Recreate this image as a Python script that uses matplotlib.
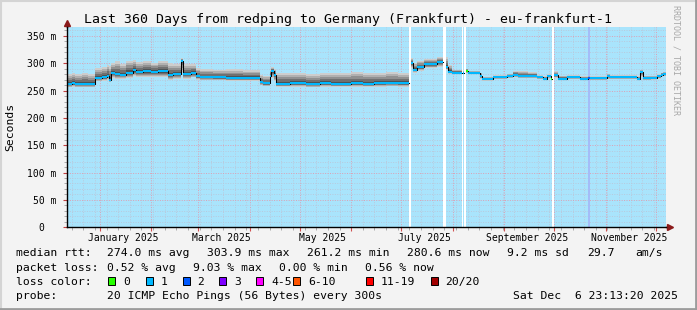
import matplotlib
matplotlib.use("Agg")
import matplotlib.dates as mdates
import matplotlib.pyplot as plt
import numpy as np
import pandas as pd
from matplotlib.lines import Line2D
from matplotlib.patches import Rectangle
from matplotlib.ticker import MultipleLocator, NullFormatter

MONO = "DejaVu Sans Mono"
W, H = 697, 310

TITLE = "Last 360 Days from redping to Germany (Frankfurt) - eu-frankfurt-1"
START = "2024-12-11 23:13:20"
END = "2025-12-06 23:13:20"

# step start times; None in MEDIAN = no data (white gap)
TIMES = [
    "2024-12-11 23:13", "2024-12-15", "2024-12-17", "2024-12-21", "2024-12-25",
    "2024-12-29", "2025-01-02", "2025-01-05", "2025-01-06 12:00", "2025-01-08",
    "2025-01-10", "2025-01-13", "2025-01-17", "2025-01-21", "2025-01-23",
    "2025-01-27", "2025-02-01", "2025-02-05", "2025-02-11", "2025-02-14",
    "2025-02-18 12:00", "2025-02-19 18:00", "2025-02-25", "2025-02-28", "2025-03-02",
    "2025-03-10", "2025-03-18", "2025-03-28", "2025-04-07", "2025-04-09",
    "2025-04-13", "2025-04-14", "2025-04-15 12:00", "2025-04-16 16:00", "2025-04-25",
    "2025-05-05", "2025-05-13", "2025-05-20", "2025-06-01", "2025-06-08",
    "2025-06-15", "2025-06-22", "2025-06-29", "2025-07-05 14:00",
    "2025-07-06 22:00", "2025-07-08", "2025-07-10 12:00", "2025-07-15", "2025-07-22 12:00", "2025-07-26",
    "2025-07-28", "2025-07-29", "2025-07-31 12:00", "2025-08-06 08:00", "2025-08-07 04:00", "2025-08-07 20:00",
    "2025-08-09 06:00", "2025-08-10", "2025-08-17 12:00", "2025-08-18 12:00", "2025-08-25",
    "2025-09-02 12:00", "2025-09-06", "2025-09-09", "2025-09-15", "2025-09-20 12:00",
    "2025-09-24", "2025-09-26 12:00", "2025-09-28 20:00", "2025-09-29 14:00", "2025-09-30 20:00",
    "2025-10-03", "2025-10-08 12:00", "2025-10-16 12:00", "2025-10-21 06:00", "2025-10-22 12:00",
    "2025-11-01 16:00", "2025-11-03 12:00", "2025-11-13 16:00", "2025-11-19 18:00", "2025-11-21 12:00",
    "2025-11-23 10:00", "2025-11-28", "2025-12-01 18:00", "2025-12-04", "2025-12-05 12:00",
]
MEDIAN = [
    262.0, 263.5, 262.0, 262.5, 262.0,
    273.0, 274.0, 277.0, 270.0, 282.0,
    280.0, 279.0, 283.0, 287.0, 284.0,
    285.0, 284.5, 285.0, 278.5, 280.0,
    303.9, 280.0, 282.0, 276.0, 274.5,
    274.0, 273.5, 273.5, 265.0, 263.0,
    277.0, 285.0, 279.0, 262.5, 263.0,
    262.0, 263.0, 262.5, 263.5, 262.5,
    263.0, 263.5, 263.0, None,
    300.0, 288.0, 292.5, 298.5, 302.0, None,
    294.0, 284.5, 283.0, None, 283.0, None,
    286.5, 283.0, 277.0, 271.0, 274.0,
    276.5, 279.0, 276.0, 276.5, 274.0,
    272.0, 276.0, 271.0, None, 278.0,
    272.0, 274.0, 272.0, 272.5, 272.5,
    276.0, 274.0, 274.5, 272.0, 284.5,
    272.5, 273.0, 276.0, 279.0, 280.6,
]
SMOKE_LO = [
    256, 257, 256, 256, 256,
    267, 268, 270, 265, 273,
    271, 271, 273, 276, 274,
    275, 275, 275, 270, 271,
    284, 272, 274, 270, 269,
    269, 268, 268, 260, 258,
    267, 273, 267, 257, 257,
    256, 257, 257, 257, 257,
    257, 258, 257, None,
    291, 283, 286, 291, 294, None,
    288, 281, 280, None, 280, None,
    282, 280, 271, 268, 271,
    273, 274, 273, 273, 271,
    269, 273, 269, None, 273,
    269, 271, 269, 269, 269,
    271, 271, 271, 269, 275,
    269, 270, 272, 275, 276,
]
SMOKE_HI = [
    281, 282, 280, 283, 281,
    291, 293, 297, 295, 301,
    304, 299, 305, 306, 303,
    305, 301, 304, 300, 298,
    309, 298, 299, 291, 289,
    288, 289, 287, 279, 277,
    289, 294, 289, 282, 283,
    281, 282, 283, 284, 282,
    283, 284, 283, None,
    309, 301, 305, 308, 312, None,
    311, 297, 288, None, 286, None,
    290, 286, 283, 275, 278,
    281, 286, 285, 284, 278,
    276, 280, 274, None, 286,
    277, 278, 276, 277, 276,
    281, 278, 278, 276, 288,
    277, 277, 280, 283, 284,
]
# loss bucket index per step (into LOSS_LABELS)
LOSS = [
    1, 1, 1, 1, 1,
    1, 1, 1, 1, 1,
    1, 1, 1, 1, 1,
    1, 1, 1, 1, 1,
    1, 1, 1, 1, 1,
    1, 1, 1, 1, 1,
    1, 1, 1, 1, 1,
    1, 1, 1, 1, 1,
    1, 1, 1, 1,
    1, 1, 1, 1, 1, 1,
    1, 1, 1, 1, 1, 1,
    0, 1, 1, 1, 1,
    1, 1, 1, 1, 1,
    1, 1, 0, 1, 1,
    1, 1, 1, 2, 1,
    1, 1, 1, 1, 1,
    1, 1, 1, 1, 1,
]
HIGHLIGHT = [("2025-10-21 06:00", "2025-10-22 12:00")]

LOSS_LABELS = ["0", "1", "2", "3", "4-5", "6-10", "11-19", "20/20"]
LOSS_COLORS = ["#26ff00", "#00b8ff", "#0059ff", "#7e00ff",
               "#ff00ff", "#ff5500", "#ff0000", "#a10000"]

RTT_TEXT = ["median rtt:", "274.0 ms avg", "303.9 ms max", "261.2 ms min",
            "280.6 ms now", "9.2 ms sd", "29.7", "am/s"]
RTT_X = [16, 107.3, 207.3, 306.7, 406.7, 506.7, 586.7, 635]
LOSS_TEXT = ["packet loss:", "0.52 % avg", "9.03 % max", "0.00 % min", "0.56 % now"]
LOSS_X = [16, 107.3, 193.3, 279.3, 365]
BOX_X = [108.3, 145.7, 182.7, 219.3, 256, 293.3, 366, 430.7]
BOX_LABEL_X = [123.3, 160.7, 197.3, 234, 271.7, 308.3, 380.7, 445]
PROBE = "20 ICMP Echo Pings (56 Bytes) every 300s"
STAMP = "Sat Dec  6 23:13:20 2025"

CANVAS = "#a9e4fc"
SMOKE_FRAC = [1.0, 0.8, 0.6, 0.4, 0.2]
SMOKE_COLORS = ["#cdcdcd", "#b0b0b0", "#909090", "#707070", "#505050"]


def fx(px):
    return px / W


def fy(py):
    return 1 - py / H


def expand(t0, t1, v):
    xs = np.column_stack([t0, t1]).ravel()
    ys = np.repeat(v, 2)
    return xs, ys


def main():
    plt.rcParams["font.family"] = MONO
    fig = plt.figure(figsize=(W / 100, H / 100), dpi=100, facecolor="#f3f3f3")
    ax = fig.add_axes([fx(66.5), fy(227.2), (665.7 - 66.5) / W, (227.2 - 27) / H])
    ax.set_facecolor(CANVAS)

    start = mdates.date2num(pd.Timestamp(START))
    end = mdates.date2num(pd.Timestamp(END))
    t0 = mdates.date2num(pd.to_datetime(TIMES, format="ISO8601"))
    t1 = np.append(t0[1:], end)
    med = np.array(MEDIAN, dtype=float)
    lo = np.array(SMOKE_LO, dtype=float)
    hi = np.array(SMOKE_HI, dtype=float)

    # unknown data -> white
    for a, b, m in zip(t0, t1, med):
        if np.isnan(m):
            ax.axvspan(a, b, color="white", lw=0, zorder=1)
    for a, b in HIGHLIGHT:
        ax.axvspan(pd.Timestamp(a), pd.Timestamp(b), color="#a4bcf8", lw=0, zorder=1)

    # smoke
    xs, ym = expand(t0, t1, med)
    _, yl = expand(t0, t1, lo)
    _, yh = expand(t0, t1, hi)
    for f, c in zip(SMOKE_FRAC, SMOKE_COLORS):
        ax.fill_between(xs, ym - (ym - yl) * f, ym + (yh - ym) * f,
                        color=c, lw=0, zorder=2)

    # median line
    ax.plot(xs, ym, color="black", lw=0.75, zorder=3)
    for a, b, m, l in zip(t0, t1, med, LOSS):
        if not np.isnan(m):
            ax.hlines(m, a, b, colors=LOSS_COLORS[l], lw=1.5, zorder=4)

    ax.set_xlim(start, end)
    ax.set_ylim(0, (227.2 - 27) * 1.83)

    # grid / ticks
    ax.set_axisbelow(True)
    ax.xaxis.set_major_locator(mdates.MonthLocator())
    ax.xaxis.set_major_formatter(NullFormatter())
    ax.xaxis.set_minor_locator(mdates.WeekdayLocator(byweekday=mdates.SU))
    ax.yaxis.set_major_locator(MultipleLocator(50))
    ax.yaxis.set_minor_locator(MultipleLocator(10))
    ticks = np.arange(0, 351, 50)
    ax.set_yticks(ticks)
    ax.set_yticklabels([f"{v} m" if v else "0  " for v in ticks])
    ax.grid(which="major", color="#dca0b4", ls=(0, (1, 1.5)), lw=0.7)
    ax.grid(which="minor", color="#b9c9dc", ls=(0, (1, 1.5)), lw=0.7)
    ax.tick_params(which="major", axis="y", direction="out", length=3,
                   color="#c04040", labelsize=7, pad=4)
    ax.tick_params(which="minor", axis="y", direction="out", length=2, color="#a0a0a0")
    ax.tick_params(which="major", axis="x", direction="out", length=3, color="#d05050")
    ax.tick_params(which="minor", axis="x", direction="out", length=2, color="#a0a0a0")

    sec = ax.secondary_xaxis("bottom")
    sec.xaxis.set_major_locator(
        mdates.MonthLocator(bymonth=[1, 3, 5, 7, 9, 11], bymonthday=15))
    sec.xaxis.set_major_formatter(mdates.DateFormatter("%B %Y"))
    sec.tick_params(length=0, pad=4, labelsize=7)
    sec.spines["bottom"].set_visible(False)

    for s in ("top", "right"):
        ax.spines[s].set_visible(False)
    for s in ("left", "bottom"):
        ax.spines[s].set_color("black")
        ax.spines[s].set_linewidth(1)
        ax.spines[s].set_zorder(5)

    # axis arrows
    ax.plot([0, 0], [1, 1.02], color="black", lw=1, transform=ax.transAxes, clip_on=False)
    ax.plot([0], [1.02], marker="^", ms=4, color="#8b1a1a", transform=ax.transAxes,
            clip_on=False)
    ax.plot([1, 1.008], [0, 0], color="black", lw=1, transform=ax.transAxes, clip_on=False)
    ax.plot([1.008], [0], marker=">", ms=4, color="#8b1a1a", transform=ax.transAxes,
            clip_on=False)

    fig.text(fx(348.5), fy(19.3), TITLE, ha="center", va="center", fontsize=9.5)
    fig.text(fx(10.5), fy(127), "Seconds", rotation=90, ha="center", va="center",
             fontsize=8.2)
    fig.text(fx(676), fy(60), "RRDTOOL / TOBI OETIKER", rotation=270, ha="center",
             va="center", fontsize=6, color="#a8a8a8")

    fs = 8.2
    for s, x in zip(RTT_TEXT, RTT_X):
        fig.text(fx(x), fy(253.3), s, va="center", fontsize=fs)
    for s, x in zip(LOSS_TEXT, LOSS_X):
        fig.text(fx(x), fy(268.3), s, va="center", fontsize=fs)
    fig.text(fx(16), fy(281.7), "loss color:", va="center", fontsize=fs)
    for bx, lx, lab, c in zip(BOX_X, BOX_LABEL_X, LOSS_LABELS, LOSS_COLORS):
        fig.add_artist(Rectangle((fx(bx), fy(285.3)), 7 / W, 8 / H, facecolor=c,
                                 edgecolor="black", lw=0.7, transform=fig.transFigure))
        fig.text(fx(lx), fy(281.7), lab, va="center", fontsize=fs)
    fig.text(fx(16), fy(296), "probe:", va="center", fontsize=fs)
    fig.text(fx(107.3), fy(296), PROBE, va="center", fontsize=fs)
    fig.text(fx(513.3), fy(296), STAMP, va="center", fontsize=fs)

    # 3d frame
    fig.add_artist(Line2D([0, 1], [fy(0.5), fy(0.5)], color="#d4d4d4", lw=1.5,
                          transform=fig.transFigure))
    fig.add_artist(Line2D([fx(0.5), fx(0.5)], [0, 1], color="#d4d4d4", lw=1.5,
                          transform=fig.transFigure))
    fig.add_artist(Line2D([0, 1], [fy(308.8), fy(308.8)], color="#9c9c9c", lw=2,
                          transform=fig.transFigure))
    fig.add_artist(Line2D([fx(695.8), fx(695.8)], [0, 1], color="#9c9c9c", lw=2,
                          transform=fig.transFigure))

    fig.savefig("out.png", dpi=100, facecolor=fig.get_facecolor())


if __name__ == "__main__":
    main()
